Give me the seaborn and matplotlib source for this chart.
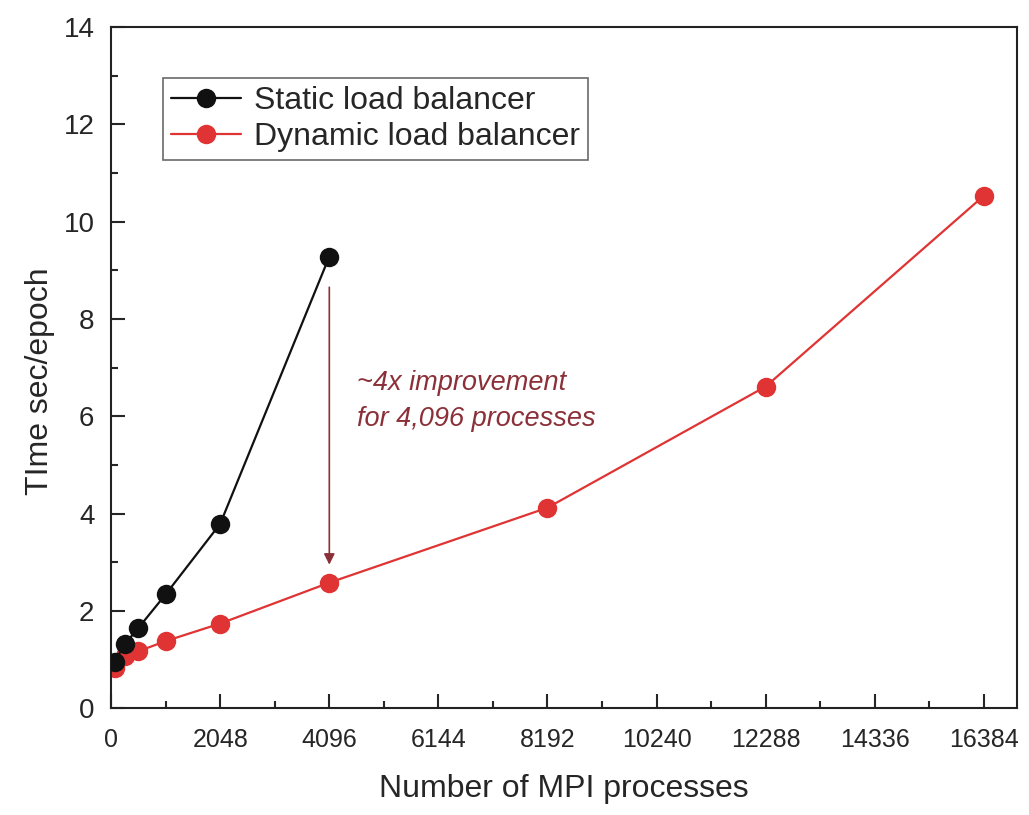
import matplotlib
matplotlib.use("Agg")
import matplotlib.pyplot as plt
from matplotlib.ticker import MultipleLocator
import seaborn as sns
import pandas as pd

# Data
static_procs = [64, 256, 512, 1024, 2048, 4096]
static_time = [0.95, 1.32, 1.65, 2.34, 3.79, 9.28]

dynamic_procs = [64, 256, 512, 1024, 2048, 4096, 8192, 12288, 16384]
dynamic_time = [0.82, 1.07, 1.17, 1.38, 1.74, 2.58, 4.12, 6.61, 10.53]

x_ticks = [0, 2048, 4096, 6144, 8192, 10240, 12288, 14336, 16384]

sns.set_theme(style="ticks")
plt.rcParams['font.family'] = ['Liberation Sans', 'DejaVu Sans']

df_static = pd.DataFrame({'procs': static_procs, 'time': static_time})
df_dynamic = pd.DataFrame({'procs': dynamic_procs, 'time': dynamic_time})

fig = plt.figure(figsize=(10.29, 8.15), dpi=100)
ax = fig.add_axes([0.108, 0.131, 0.88, 0.836])

# dynamic first so the static markers sit on top where they overlap
sns.lineplot(data=df_dynamic, x='procs', y='time', color='#e03333', label='Dynamic load balancer',
             marker='o', markersize=14, markeredgewidth=0, linewidth=1.6, ax=ax, zorder=2)
sns.lineplot(data=df_static, x='procs', y='time', color='#111111', label='Static load balancer',
             marker='o', markersize=14, markeredgewidth=0, linewidth=1.6, ax=ax, zorder=3)

ax.set_xlim(0, 17000)
ax.set_ylim(0, 14)
ax.set_xticks(x_ticks)
ax.xaxis.set_minor_locator(MultipleLocator(1024))
ax.yaxis.set_major_locator(MultipleLocator(2))
ax.yaxis.set_minor_locator(MultipleLocator(1))
ax.tick_params(axis='both', which='major', direction='in', length=10, width=1.5)
ax.tick_params(axis='both', which='minor', direction='in', length=5, width=1.5)
ax.tick_params(axis='x', labelsize=18, pad=14)
ax.tick_params(axis='y', labelsize=20, pad=12)
for s in ax.spines.values():
    s.set_visible(True)
    s.set_linewidth(1.5)
    s.set_color('#222222')

ax.set_xlabel('Number of MPI processes', fontsize=23, labelpad=16)
ax.set_ylabel('TIme sec/epoch', fontsize=23)
ax.yaxis.set_label_coords(-0.062, 0.48)

# annotation arrow and text
ax.annotate('', xy=(4096, 2.95), xytext=(4096, 8.65),
            arrowprops=dict(arrowstyle='-|>', color='#8b3038', lw=1.2,
                            mutation_scale=16, shrinkA=0, shrinkB=0))
ax.text(4620, 6.95, '~4x improvement\nfor 4,096 processes', color='#8b3038',
        fontsize=19.5, style='italic', linespacing=1.5, va='top')

handles, labels = ax.get_legend_handles_labels()
leg = ax.legend(handles[::-1], labels[::-1], loc='upper left', bbox_to_anchor=(0.057, 0.925),
                fontsize=23, frameon=True, fancybox=False, edgecolor='#444444',
                handlelength=2.2, borderpad=0.25, labelspacing=0.2, handletextpad=0.4,
                borderaxespad=0)
leg.get_frame().set_linewidth(1.2)

fig.savefig('out.png', dpi=100)
